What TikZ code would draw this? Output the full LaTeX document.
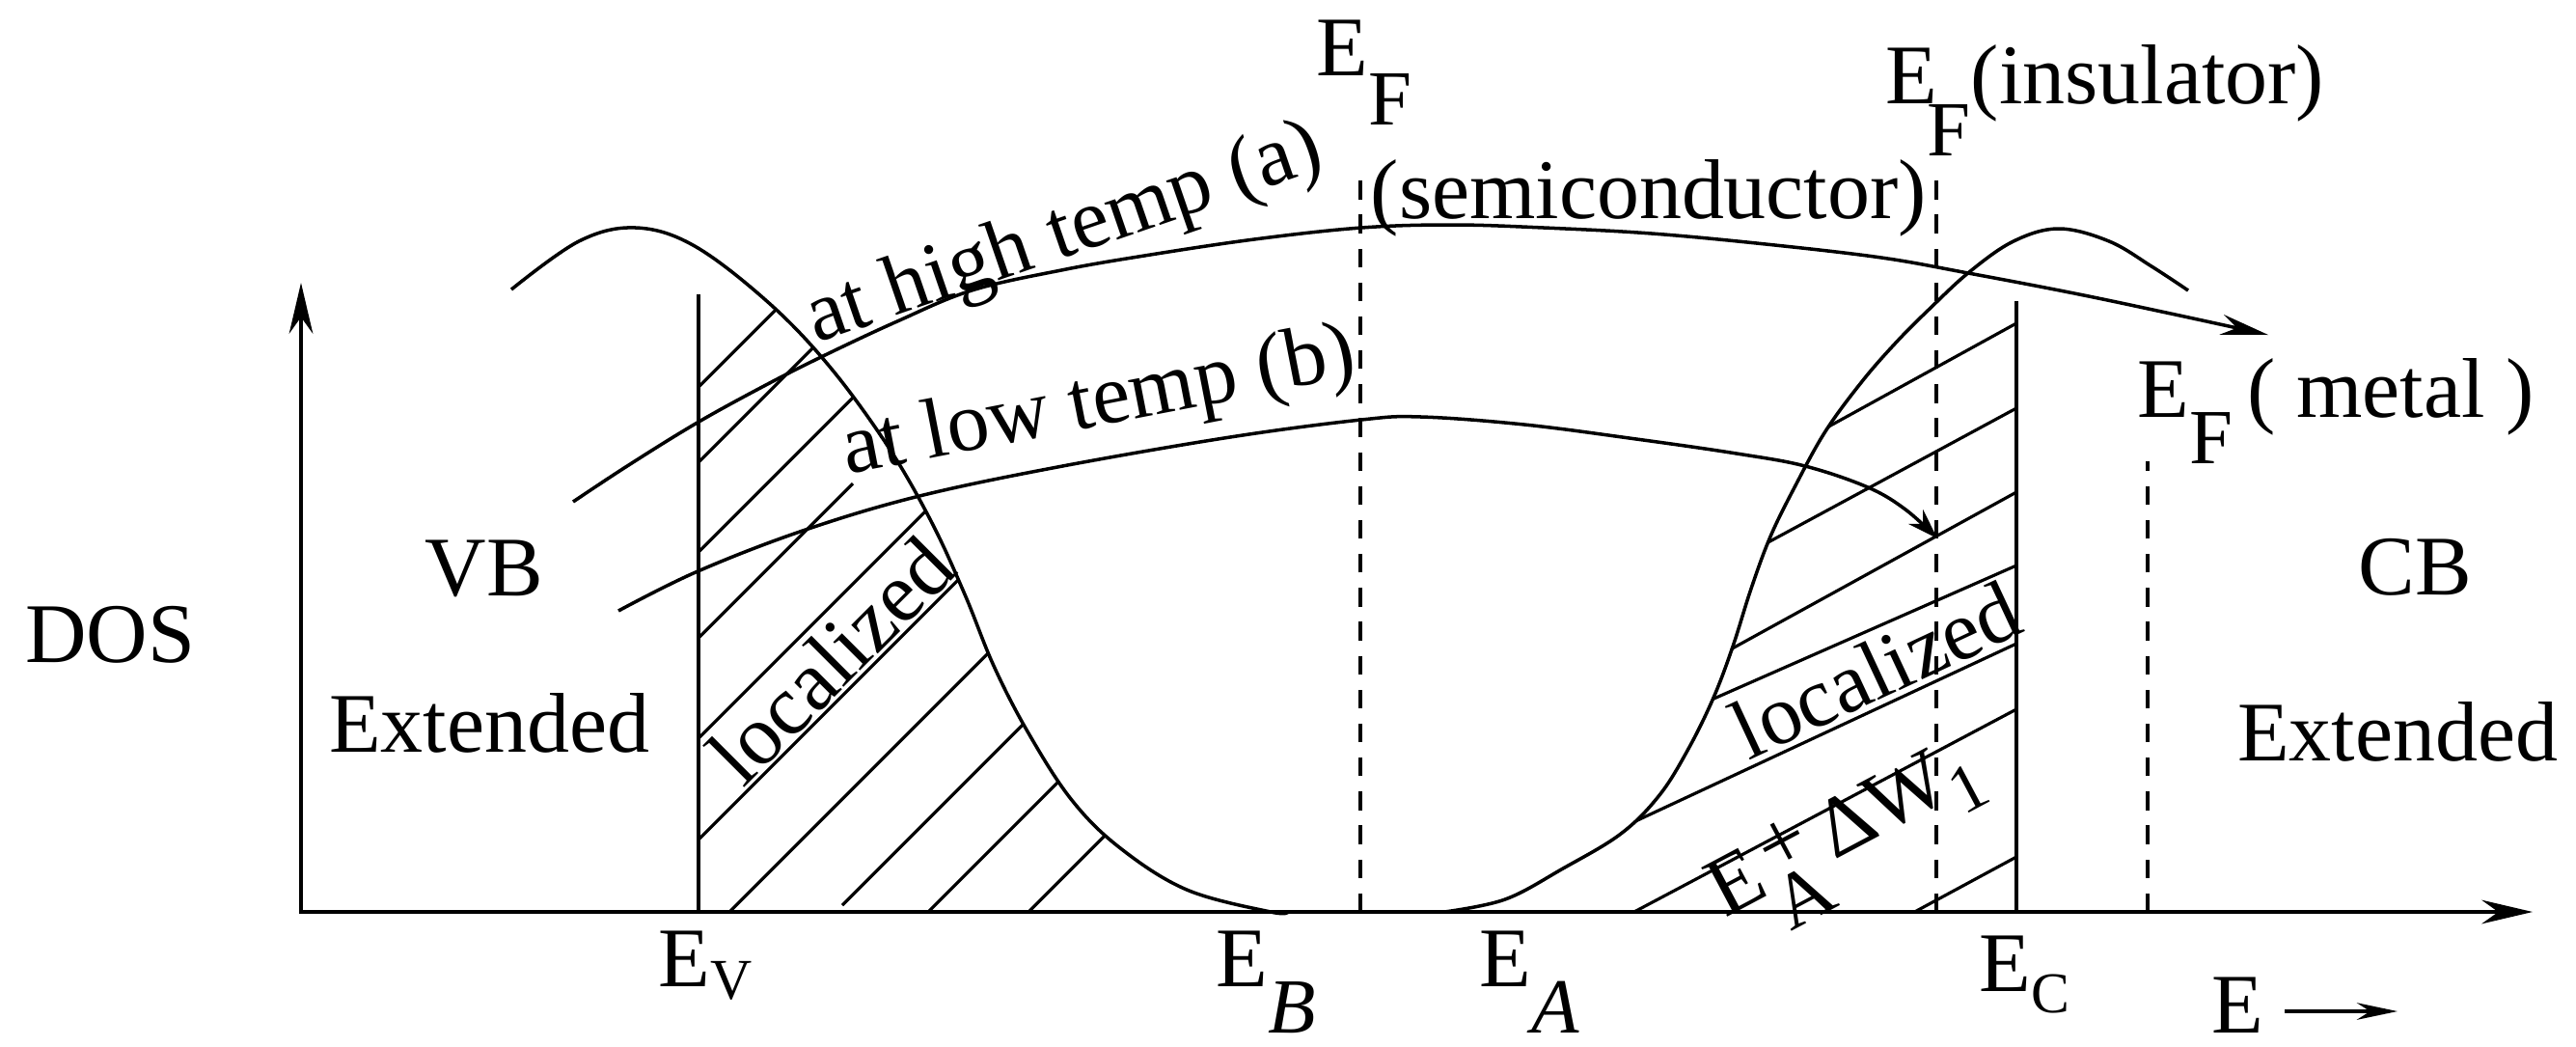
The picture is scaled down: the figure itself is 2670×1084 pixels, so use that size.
\documentclass[tikz,border=0pt]{standalone}
\usepackage{fontspec}
\setmainfont{Liberation Serif}
\usetikzlibrary{arrows.meta}
\newcommand{\lowsub}[2]{\raisebox{-#1}{\fontsize{23}{23}\selectfont #2}}
\newcommand{\smallsub}[2]{\raisebox{-#1}{\fontsize{17}{17}\selectfont #2}}

\begin{document}
\begin{tikzpicture}[x=0.01cm, y=-0.01cm,
    lbl/.style={inner sep=0pt, font=\fontsize{25}{30}\selectfont},
    curve/.style={line width=1pt},
    hatch/.style={line width=0.9pt},
    fermi/.style={line width=1pt, dash pattern=on 5.5pt off 4.5pt},
    axis/.style={line width=1pt, {Stealth[length=15pt,width=7pt]}-{Stealth[length=15pt,width=7pt]}}
  ]
  \path[use as bounding box] (0,0) rectangle (2670,1084);

  % axes and band edges
  \coordinate (O) at (312,945);
  \coordinate (yTip) at (312,293);
  \coordinate (xTip) at (2625,945);
  \coordinate (evTop) at (724,305);
  \coordinate (evBot) at (724,945);
  \coordinate (ecTop) at (2090,312);
  \coordinate (ecBot) at (2090,945);
  \draw[axis] (yTip) -- (O) -- (xTip);
  \draw[curve] (evBot) -- (evTop);
  \draw[curve] (ecBot) -- (ecTop);

  % Fermi levels
  \coordinate (semiTop) at (1410,176);
  \coordinate (semiBot) at (1410,945);
  \coordinate (insTop) at (2007,175);
  \coordinate (insBot) at (2007,945);
  \coordinate (metTop) at (2226,478);
  \coordinate (metBot) at (2226,945);
  \draw[fermi] (semiBot) -- (semiTop);
  \draw[fermi] (insBot) -- (insTop);
  \draw[fermi] (metBot) -- (metTop);

  % density of states tails
  \draw[curve] plot[smooth, tension=0.6] coordinates {(530,300) (600,250) (659,236) (720,255) (797,314) (860,380) (920,462) (965,540) (1000,616) (1030,690) (1065,758) (1110,828) (1160,878) (1230,922) (1317,945) (1335,945)};
  \draw[curve] plot[smooth, tension=0.6] coordinates {(1497,945) (1560,932) (1620,900) (1680,864) (1720,824) (1750,776) (1776,723) (1796,670) (1815,610) (1835,556) (1860,505) (1892,447) (1931,394) (1967,353) (2000,320) (2041,282) (2087,250) (2134,237) (2186,250) (2230,276) (2268,301)};

  % hatching, valence side
  \begin{scope}
    \clip (724,0) rectangle (1400,945);
    \clip plot[smooth, tension=0.6] coordinates {(530,300) (600,250) (659,236) (720,255) (797,314) (860,380) (920,462) (965,540) (1000,616) (1030,690) (1065,758) (1110,828) (1160,878) (1230,922) (1317,945) (1335,945)} -- (530,945) -- cycle;
    \foreach \off in {1125,1203,1296,1489,1594,1701,1907,2011}
      \draw[hatch] (700,{\off-700}) -- (1400,{\off-1400});
    \draw[hatch] (724,661) -- (884,501);
    \draw[hatch] (873,938) -- (1150,661);
  \end{scope}

  % hatching, conduction side
  \begin{scope}
    \clip (1400,0) rectangle (2090,945);
    \clip plot[smooth, tension=0.6] coordinates {(1497,945) (1560,932) (1620,900) (1680,864) (1720,824) (1750,776) (1776,723) (1796,670) (1815,610) (1835,556) (1860,505) (1892,447) (1931,394) (1967,353) (2000,320) (2041,282) (2087,250) (2134,237) (2186,250) (2230,276) (2268,301)} -- (2268,945) -- cycle;
    \foreach \ye/\slope in {335/0.55,423/0.54,510/0.55,586/0.44,667/0.466,735/0.53,888/0.54}
      \draw[hatch] (1400,{\ye+\slope*690}) -- (2090,\ye);
  \end{scope}

  % hopping paths
  \coordinate (hiStart) at (594,520);
  \coordinate (hiEnd) at (2351,347);
  \coordinate (loStart) at (641,633);
  \coordinate (loEnd) at (2008,558);
  \draw[curve, -{Stealth[length=14pt,width=6pt]}] plot[smooth, tension=0.6] coordinates {(hiStart) (650,483) (721,439) (790,401) (851,370) (930,333) (1007,301) (1100,280) (1186,265) (1300,248) (1411,236) (1505,233) (1600,236) (1712,242) (1830,253) (1950,267) (2040,283) (2150,304) (2250,325) (hiEnd)};
  \draw[curve, -{Stealth[length=9pt,width=6pt]}] plot[smooth, tension=0.6] coordinates {(loStart) (721,593) (829,551) (949,515) (1096,484) (1275,453) (1411,435) (1473,432) (1580,440) (1696,455) (1800,470) (1871,483) (1936,505) (1975,528) (loEnd)};

  % labels
  \node[lbl, anchor=base] (dos) at (114,686) {DOS};
  \node[lbl, anchor=base] (vb) at (502,617) {VB};
  \node[lbl, anchor=base] (extL) at (507,779) {Extended};
  \node[lbl, anchor=base] (cb) at (2503,616) {CB};
  \node[lbl, anchor=base] (extR) at (2485,788) {Extended};
  \node[lbl, anchor=base west] (ev) at (682,1022) {E\smallsub{0.15em}{V}};
  \node[lbl, anchor=base west] (eb) at (1260,1022) {E\lowsub{0.55em}{\itshape B}};
  \node[lbl, anchor=base west] (ea) at (1533,1022) {E\lowsub{0.55em}{\itshape A}};
  \node[lbl, anchor=base west] (ec) at (2051,1027) {E\smallsub{0.25em}{C}};
  \node[lbl, anchor=base west] (eAxis) at (2292,1070) {E};
  \coordinate (eTip) at (2485,1048);
  \draw[line width=1pt, -{Stealth[length=12pt,width=5pt]}, shorten <=6pt] (eAxis.east |- eTip) -- (eTip);

  \node[lbl, anchor=base west] (efSemi) at (1364,78) {E\lowsub{0.58em}{F}};
  \node[lbl, anchor=base west] (semi) at (1420,226) {(semiconductor)};
  \node[lbl, anchor=base west] (efIns) at (1954,107) {E\kern-0.12em\lowsub{0.62em}{F}(insulator)};
  \node[lbl, anchor=base west] (efMetal) at (2215,432) {E\lowsub{0.55em}{F}\,( metal )};

  \node[lbl, anchor=base west, rotate=19] (hiLbl) at (846,356) {at high temp (a)};
  \node[lbl, anchor=base west, rotate=11] (loLbl) at (878,492) {at low temp (b)};
  \node[lbl, rotate=45] (locL) at (861,684) {localized};
  \node[lbl, rotate=25] (locR) at (1944,694) {localized};
  \node[lbl, rotate=28] (shift) at (1918,872) {E\lowsub{0.5em}{A}\kern-0.55em\raisebox{0.15em}{+}\,ΔW\raisebox{-0.25em}{\fontsize{20}{20}\selectfont 1}};
\end{tikzpicture}
\end{document}
